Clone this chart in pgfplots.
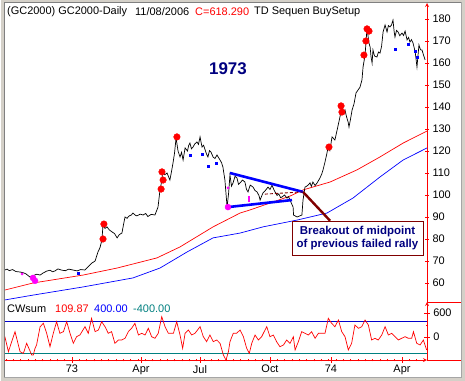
\documentclass[border=0pt]{standalone}
\usepackage{pgfplots}
\pgfplotsset{compat=1.18}
\usepackage{pgfplotstable}
\usepackage{fontspec}
\setmainfont{Liberation Sans}
\definecolor{navy}{RGB}{0,0,128}
\definecolor{dred}{RGB}{128,0,0}
\definecolor{tealc}{RGB}{0,128,128}
\definecolor{framegray}{RGB}{212,208,200}
\definecolor{magc}{RGB}{255,0,255}
\definecolor{blc}{RGB}{0,0,255}

\pgfplotstableread{
m v
-3.05 65.9
-2.95 66.3
-2.85 65.6
-2.70 66.1
-2.55 65.2
-2.36 65.0
-2.20 64.6
-2.10 64.2
-1.91 62.7
-1.75 63.4
-1.60 64.0
-1.45 63.6
-1.32 64.5
-1.15 65.4
-1.00 65.8
-0.88 65.1
-0.77 65.5
-0.64 66.4
-0.45 65.8
-0.30 65.6
-0.15 66.3
0.00 66.0
0.23 65.5
0.40 66.1
0.59 65.9
0.75 67.5
0.91 69.1
1.05 70.0
1.18 74.1
1.27 76.0
1.36 79.5
1.41 86.4
1.50 84.8
1.59 85.5
1.70 84.1
1.82 83.2
1.93 82.5
2.05 80.5
2.15 82.0
2.27 82.7
2.35 87.0
2.41 90.0
2.50 89.4
2.60 90.5
2.70 90.9
2.77 91.8
2.88 90.8
2.95 90.5
3.10 91.3
3.23 90.9
3.35 91.6
3.45 90.2
3.60 91.2
3.77 90.9
3.91 94.5
4.00 102.3
4.09 106.8
4.12 110.5
4.22 109.2
4.32 110.0
4.45 106.8
4.52 110.5
4.59 114.5
4.66 119.0
4.73 125.9
4.82 120.0
4.91 117.3
4.98 119.4
5.05 115.9
5.14 121.4
5.25 120.0
5.30 122.4
5.36 123.6
5.43 121.0
5.50 121.8
5.58 123.2
5.68 124.1
5.75 123.0
5.82 126.4
5.91 121.8
5.98 122.6
6.05 120.5
6.12 118.5
6.18 117.3
6.25 120.2
6.32 119.5
6.41 117.3
6.50 116.6
6.59 118.2
6.66 117.0
6.73 115.9
6.80 114.6
6.86 112.7
6.95 106.8
7.05 94.5
7.12 101.0
7.18 109.1
7.25 104.0
7.32 105.5
7.41 108.5
7.50 107.7
7.57 104.8
7.64 105.5
7.75 106.8
7.86 105.9
7.93 102.6
8.00 101.4
8.10 104.5
8.23 103.6
8.32 102.0
8.41 101.4
8.50 99.7
8.55 97.7
8.62 99.5
8.68 100.9
8.80 102.2
8.91 103.6
9.00 102.5
9.09 104.5
9.16 102.8
9.23 101.4
9.32 99.8
9.40 100.5
9.48 98.8
9.55 99.1
9.66 100.0
9.77 98.6
9.84 99.3
9.91 97.7
10.05 94.5
10.07 90.9
10.23 90.0
10.45 90.9
10.50 97.7
10.59 103.6
10.70 104.2
10.82 105.5
10.88 103.9
10.95 105.9
11.05 104.3
11.14 105.5
11.27 107.7
11.35 109.5
11.41 111.4
11.50 115.0
11.59 119.1
11.64 121.8
11.72 120.2
11.82 126.4
11.95 125.0
12.05 129.5
12.18 135.5
12.27 140.0
12.34 137.0
12.41 138.6
12.48 135.5
12.55 133.2
12.59 130.9
12.66 134.5
12.73 138.6
12.82 141.5
12.91 146.4
13.00 147.7
13.09 149.0
13.18 152.3
13.23 158.2
13.32 163.6
13.41 175.9
13.45 172.7
13.50 169.0
13.55 167.3
13.59 163.0
13.64 160.0
13.68 165.9
13.75 163.2
13.86 162.7
13.93 165.0
14.00 164.5
14.07 167.5
14.14 174.1
14.23 177.3
14.32 174.1
14.38 177.0
14.45 176.4
14.52 177.2
14.59 179.5
14.64 174.5
14.68 171.8
14.75 174.8
14.82 174.1
14.90 172.4
15.00 173.6
15.07 172.5
15.14 174.5
15.23 170.5
15.30 171.6
15.36 169.5
15.43 170.6
15.50 169.1
15.60 165.0
15.68 158.2
15.77 168.2
15.84 166.0
15.91 165.9
15.98 163.5
16.05 161.4
}\price

\pgfplotstableread{
m v
-3.05 56.8
-1.77 60.0
0.50 63.6
2.05 66.8
3.86 71.4
4.91 76.4
6.41 85.5
7.64 91.8
8.09 93.2
9.91 99.5
10.50 102.3
11.73 105.9
12.95 111.4
14.00 117.3
15.05 123.6
16.14 129.1
}\redma

\pgfplotstableread{
m v
-3.05 52.3
-1.77 54.5
0.50 58.2
2.77 62.3
4.00 66.8
5.23 74.1
6.41 80.5
7.64 82.7
8.68 85.5
10.23 88.6
11.59 91.8
12.77 98.6
14.00 108.2
15.05 115.9
16.14 121.4
}\bluema

\pgfplotstableread{
m v
1.45 86.8
1.41 80.0
4.77 126.4
4.09 110.5
4.14 106.8
4.05 102.7
11.68 121.8
12.23 140.5
12.27 137.7
13.27 163.6
13.36 170.0
13.41 175.5
13.50 174.5
}\reddots

\pgfplotstableread{
m v
0.27 64.5
5.36 118.2
5.91 118.6
6.18 113.2
6.55 114.5
14.68 166.4
15.27 168.6
15.59 165.5
15.68 162.7
}\bluedots

\pgfplotstableread{
m v
-3.05 8
-2.89 -367
-2.59 133
-2.36 -367
-2.21 -408
-2.06 -158
-1.83 -450
-1.76 -450
-1.68 -283
-1.61 -200
-1.45 258
-1.30 342
-1.15 92
-1.00 -242
-0.85 92
-0.70 383
-0.55 92
-0.39 133
-0.24 383
-0.09 92
0.06 -158
0.21 8
0.36 50
0.59 258
0.74 92
0.89 467
1.05 133
1.20 175
1.35 383
1.50 258
1.65 92
1.80 133
1.95 -158
2.11 -75
2.26 -75
2.41 -33
2.56 133
2.71 217
2.86 342
3.02 50
3.17 92
3.32 50
3.47 217
3.62 8
3.77 -33
3.92 92
4.08 508
4.23 258
4.38 92
4.53 92
4.61 92
4.76 383
4.91 50
5.03 -283
5.14 92
5.29 175
5.44 50
5.59 92
5.82 258
5.97 8
6.12 -117
6.27 50
6.42 -117
6.58 -75
6.73 -158
6.88 -450
7.00 -575
7.11 -367
7.18 -117
7.33 92
7.48 92
7.64 175
7.79 8
7.94 -283
8.06 -408
8.17 -158
8.32 50
8.47 -75
8.62 8
8.85 258
9.00 8
9.15 50
9.30 -117
9.45 -242
9.61 -200
9.76 -75
9.91 -158
10.06 8
10.14 -325
10.29 -117
10.44 133
10.59 92
10.74 50
10.89 133
11.05 -33
11.20 92
11.35 92
11.50 92
11.65 467
11.80 342
11.95 258
12.11 425
12.26 133
12.41 8
12.56 -325
12.71 -158
12.86 300
13.02 217
13.17 258
13.32 425
13.47 300
13.62 -75
13.77 -33
13.92 -75
14.08 50
14.23 258
14.38 50
14.53 92
14.68 8
14.83 -75
14.98 -33
15.14 8
15.29 -33
15.44 -33
15.52 133
15.67 -158
15.82 -200
15.97 -75
16.12 -325
}\cwsum

\pgfplotsset{
  chartstyle/.style={
    scale only axis,
    width=422bp,
    xmin=-3.045, xmax=16.136,
    axis line style={-, red, line width=0.8bp},
    tick style={red, line width=0.8bp},
    tick align=outside,
    major tick length=4bp,
    minor tick length=2.5bp,
    tick label style={font=\fontsize{11}{13}\selectfont, black},
    /pgf/number format/assume math mode=true,
    /pgf/number format/1000 sep={},
    clip=true,
  }
}

\begin{document}
\begin{tikzpicture}
\useasboundingbox (0bp,0bp) rectangle (465bp,-381bp);
\fill[framegray] (0bp,0bp) rectangle (465bp,-381bp);
\fill[white] (4bp,-2bp) rectangle (461bp,-377bp);
\draw[gray, line width=1bp] (4.5bp,-377bp) -- (4.5bp,-2.5bp) -- (461bp,-2.5bp);
\draw[white, line width=1bp] (0.5bp,-380.5bp) -- (0.5bp,-0.5bp);
\draw[gray!70, line width=1bp] (461.5bp,-2bp) -- (461.5bp,-377.5bp) -- (4bp,-377.5bp);

% upper panel
\begin{axis}[chartstyle,
  at={(5bp,-302bp)}, anchor=south west,
  height=299bp,
  ymin=51.36, ymax=187.27,
  axis x line=none,
  axis y line=right,
  ytick={60,70,...,180},
]
\addplot[red, line width=0.7bp] table[x=m,y=v] {\redma};
\addplot[blc, line width=0.7bp] table[x=m,y=v] {\bluema};
\addplot[black, line width=0.7bp] table[x=m,y=v] {\price};
\addplot[blc, line width=2.6bp] coordinates {(7.18,110.0) (10.50,101.4)};
\addplot[blc, line width=2.6bp] coordinates {(7.09,94.5) (10.00,97.7)};
\addplot[dred, line width=0.9bp, dash pattern=on 3bp off 2bp] coordinates {(8.77,100.4) (10.45,101.4)};
\addplot[dred, line width=2.4bp] coordinates {(10.50,101.4) (11.73,88.3)};
\addplot[only marks, mark=*, mark size=3.3bp, red] table[x=m,y=v] {\reddots};
\addplot[only marks, mark=square*, mark size=1.1bp, blc] table[x=m,y=v] {\bluedots};
\addplot[only marks, mark=*, mark size=3bp, magc] coordinates {(-1.77,62.3) (-1.68,61.0) (7.09,94.5)};
\addplot[only marks, mark=*, mark size=1.2bp, magc] coordinates {(-2.27,64.1) (7.09,103.2)};
\addplot[only marks, mark=|, mark size=3bp, magc, mark options={line width=2.5bp}] coordinates {(8.05,98.2)};
\end{axis}

% lower panel
\begin{axis}[chartstyle,
  at={(5bp,-360bp)}, anchor=south west,
  height=58bp,
  ymin=-575, ymax=875,
  axis x line=bottom,
  axis y line=right,
  ytick={0,600},
  minor ytick={-300,300},
  xtick={0,3.136,5.818,9,11.77,15},
  xticklabels={73,Apr,Jul,Oct,74,Apr},
  minor xtick={-3,-2.6667,...,16.1},
  major tick length=5.5bp,
  x tick label style={yshift=1bp},
]
\addplot[blue!80!black, line width=0.8bp] coordinates {(-3.045,400) (16.136,400)};
\addplot[tealc, line width=0.8bp] coordinates {(-3.045,-400) (16.136,-400)};
\addplot[red, line width=0.7bp] table[x=m,y=v] {\cwsum};
\end{axis}

\draw[red, line width=0.8bp] (427bp,-302bp) -- (461bp,-302bp);
\draw[red, line width=0.8bp] (427bp,-360bp) -- (461bp,-360bp);

% texts
\begin{scope}[every node/.style={inner sep=0pt, anchor=west, font=\fontsize{11}{13}\selectfont}]
\node at (7bp,-12bp) {(GC2000) GC2000-Daily};
\node at (135bp,-12bp) {11/08/2006};
\node[text=red] at (195bp,-12bp) {C=618.290};
\node at (254bp,-12bp) {TD Sequen BuySetup};
\node at (7bp,-309bp) {CWsum};
\node[text=red] at (55bp,-309bp) {109.87};
\node[text=blc] at (94bp,-309bp) {400.00};
\node[text=tealc] at (133bp,-309bp) {-400.00};
\end{scope}
\node[font=\fontsize{17}{20}\selectfont\bfseries, text=navy, inner sep=0pt] at (228bp,-69bp) {1973};
\node[draw=dred, line width=0.8bp, fill=white, minimum width=131bp, minimum height=34bp, inner sep=0pt,
  align=center, font=\fontsize{11.5}{12.5}\selectfont\bfseries, text=navy] at (357.5bp,-238bp)
  {Breakout of midpoint\\of previous failed rally};
\end{tikzpicture}
\end{document}
